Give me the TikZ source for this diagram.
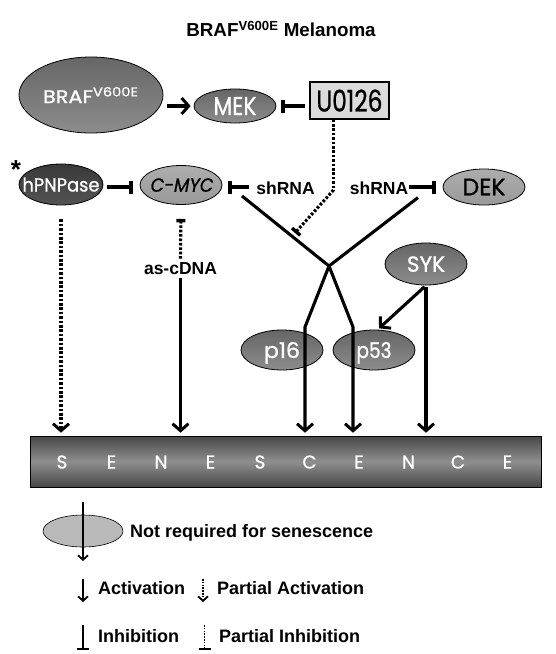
\documentclass[tikz,border=0pt]{standalone}
\usepackage{fontspec}
\usepackage{graphicx}
\setmainfont{Liberation Sans}
\newfontfamily\comic{Poppins}[FakeBold=1.0]
\newfontfamily\comicit{Poppins}[FakeSlant=0.2,FakeBold=1.0]
\newcommand\fitt[3]{\smash{\makebox[0pt]{\raisebox{-0.5\height}{\resizebox{#1}{#2}{#3}}}}}
\usetikzlibrary{arrows.meta,shapes.geometric,shadings}
\definecolor{midtop}{gray}{0.40}
\definecolor{midbot}{gray}{0.55}
\definecolor{lighttop}{gray}{0.68}
\definecolor{lightbot}{gray}{0.60}
\definecolor{darktop}{gray}{0.22}
\definecolor{darkbot}{gray}{0.33}
\definecolor{barouter}{gray}{0.28}
\definecolor{barmid}{gray}{0.56}
\definecolor{boxfill}{gray}{0.86}
\begin{document}
\begin{tikzpicture}[x=1pt,y=-1pt,
  gnode/.style={ellipse, draw=black, line width=0.8pt, inner sep=0pt,
    top color=midtop, bottom color=midbot, text=white,
    font=\comic},
  lnode/.style={gnode, top color=lighttop, bottom color=lightbot, text=black},
  dnode/.style={gnode, top color=darktop, bottom color=darkbot},
  lbl/.style={inner sep=1pt, font=\bfseries\fontsize{17.5}{17.5}\selectfont},
  leg/.style={inner sep=0pt, anchor=west, font=\bfseries\fontsize{18}{18}\selectfont},
  act/.style={line width=3.1pt, line cap=butt,
    -{Straight Barb[length=7pt,width=16pt,line width=3pt]}},
  inh/.style={line width=3.1pt, -{Bar[width=13pt,line width=3.4pt]}},
  dots/.style={dash pattern=on 2.6pt off 1.8pt},
  thinact/.style={line width=1.5pt, -{Straight Barb[length=4.5pt,width=10pt,line width=1.8pt]}},
  thininh/.style={line width=1.5pt, -{Bar[width=12pt,line width=2.2pt]}},
  senletter/.style={text=white, inner sep=0pt, font=\comic}
]
\useasboundingbox (0,0) rectangle (555,654);

% title
\node[font=\bfseries\fontsize{18.8}{18.8}\selectfont] (title) at (281,29)
  {BRAF\textsuperscript{V600E} Melanoma};

% top row
\node[gnode, minimum width=144pt, minimum height=76pt] (braf) at (91,95)
  {\fitt{96pt}{16pt}{BRAF\textsuperscript{V600E}}};
\node[gnode, minimum width=82pt, minimum height=34pt] (mek) at (235,106)
  {\fitt{43pt}{18pt}{MEK}};
\node[draw=black, line width=1.1pt, fill=boxfill, minimum width=79pt,
  minimum height=37pt, inner sep=0pt, font=\comic]
  (u0126) at (349.5,100.5) {\fitt{66pt}{22pt}{U0126}};

\draw[act, shorten <=4pt, shorten >=3pt] (mek.west -| braf.east) -- (mek.west);
\draw[inh, shorten <=4pt, shorten >=5pt] (u0126.west |- mek.east) -- (mek.east);

% second row
\node[dnode, minimum width=84pt, minimum height=41pt] (hpn) at (61,184.5)
  {\fitt{77pt}{14pt}{hPNPase}};
\node[font=\bfseries\fontsize{26}{26}\selectfont, inner sep=0pt] (star) at (16,170) {*};
\node[lnode, minimum width=82pt, minimum height=39pt,
  font=\comicit] (cmyc) at (181,185) {\fitt{63pt}{13.5pt}{C-MYC}};
\node[lbl] (sh1) at (285.5,188.7) {shRNA};
\node[lbl] (sh2) at (379,188.7) {shRNA};
\node[lnode, minimum width=82pt, minimum height=36pt] (dek) at (484,187)
  {\fitt{43pt}{16.5pt}{DEK}};

\draw[inh, shorten <=4pt, shorten >=7pt] (hpn.east |- 0,187) -- (cmyc.west |- 0,187);
\draw[inh, shorten <=6pt, shorten >=6pt] (sh1.west |- 0,187) -- (cmyc.east |- 0,187);
\draw[inh, shorten <=0pt, shorten >=7pt] (sh2.east |- 0,187) -- (dek.west |- 0,187);

% X junction
\coordinate (xl) at (242,196);
\coordinate (xr) at (418,197.6);
\coordinate (xj) at (329,266);
\coordinate (kl) at (305,327);
\coordinate (kr) at (353,327);

% partial inhibition from U0126
\coordinate (ubend) at (333.5,190);
\coordinate (pinh) at (295,233);
\draw[line width=3.1pt, dots] (u0126.south -| ubend) -- (ubend);
\draw[line width=3.1pt, dots, -{Bar[width=11pt,line width=3.4pt]}] (ubend) -- (pinh);

% as-cDNA
\node[lbl] (asc) at (180.5,269) {as-cDNA};
\draw[line width=3.1pt, dots, -{Bar[width=9pt,line width=3.4pt]}, shorten <=3pt, shorten >=14pt]
  (asc.north) -- (cmyc.south);

% lower nodes
\node[gnode, minimum width=82pt, minimum height=42pt] (syk) at (426,264)
  {\fitt{38pt}{15.5pt}{SYK}};
\node[gnode, minimum width=82pt, minimum height=40pt] (p16) at (282,350)
  {\fitt{36pt}{16pt}{p16}};
\node[gnode, minimum width=82pt, minimum height=40pt] (p53) at (374,350)
  {\fitt{35pt}{16pt}{p53}};

% senescence bar
\node[rectangle, draw=black, line width=0.6pt, minimum width=511pt, minimum height=51pt,
  inner sep=0pt, top color=barouter, bottom color=barouter, middle color=barmid]
  (sen) at (285.5,461.5) {};
\foreach \l [count=\i from 0] in {S,E,N,E,S,C,E,N,C,E}
  \node[senletter] (s\i) at (62+49.5*\i, 462) {\resizebox{!}{13pt}{\l}};

% connectors
\draw[line width=3.1pt, line join=miter] (xl) -- (xj) -- (xr);
\draw[act, line join=miter, shorten >=3pt] (xj) -- (kl) -- (kl |- sen.north);
\draw[act, line join=miter, shorten >=3pt] (xj) -- (kr) -- (kr |- sen.north);
\draw[act, shorten <=2pt, shorten >=2pt] (syk.south) -- (p53.80);
\draw[act, shorten <=2pt, shorten >=3pt] (syk.south) -- (syk.south |- sen.north);
\draw[act, shorten <=2pt, shorten >=3pt] (asc.south) -- (asc.south |- sen.north);
\draw[act, dots, shorten <=14pt, shorten >=3pt] (hpn.south) -- (hpn.south |- sen.north);

% legend
\node[ellipse, draw=black, line width=0.6pt, fill=gray!55, minimum width=80pt,
  minimum height=32pt, inner sep=0pt] (legell) at (83,531) {};
\coordinate (la1) at (83,502);
\coordinate (la2) at (83,561);
\draw[thinact] (la1) -- (la2);
\node[leg] (t1) at (130,533) {Not required for senescence};

\coordinate (a1) at (83,579);
\coordinate (a2) at (83,602);
\draw[thinact] (a1) -- (a2);
\node[leg] (t2) at (98,588) {Activation};
\coordinate (b1) at (203,579);
\coordinate (b2) at (203,602);
\draw[thinact, dash pattern=on 1.6pt off 1.2pt] (b1) -- (b2);
\node[leg] (t3) at (217,588) {Partial Activation};

\coordinate (c1) at (83,625);
\coordinate (c2) at (83,650);
\draw[thininh] (c1) -- (c2);
\node[leg] (t4) at (98,636) {Inhibition};
\coordinate (d1) at (204.5,625);
\coordinate (d2) at (204.5,650);
\draw[thininh, dash pattern=on 1.6pt off 1.2pt] (d1) -- (d2);
\node[leg] (t5) at (219,636) {Partial Inhibition};
\end{tikzpicture}
\end{document}
